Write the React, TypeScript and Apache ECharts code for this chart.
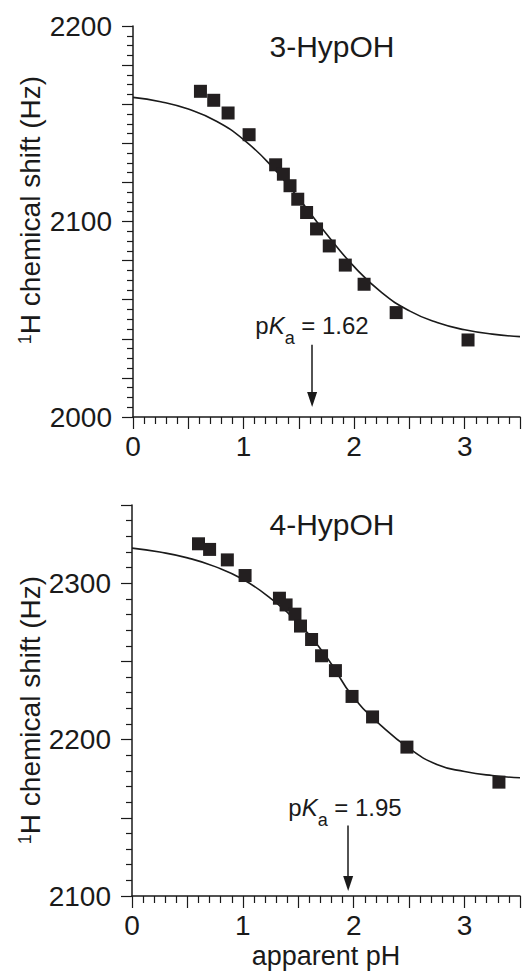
import React, { useEffect, useRef } from 'react';
import * as echarts from 'echarts';

// Panel A: 3-HypOH
const phA = [0.61, 0.73, 0.86, 1.05, 1.29, 1.36, 1.42, 1.49, 1.57, 1.66, 1.775, 1.92, 2.09, 2.38, 3.03];
const shiftA = [2166.6, 2162.0, 2155.5, 2144.4, 2129.0, 2124.2, 2118.3, 2111.4, 2104.6, 2096.2, 2087.5, 2077.7, 2067.9, 2053.4, 2039.4];
const fitPhA = [0, 0.25, 0.5, 0.75, 1, 1.25, 1.5, 1.75, 2, 2.25, 2.5, 2.75, 3, 3.25, 3.5];
const fitShiftA = [2163.5, 2161.3, 2157.5, 2151.4, 2141.9, 2128.5, 2111.7, 2093.6, 2076.9, 2063.6, 2054.3, 2048.3, 2044.6, 2042.4, 2041.1];

// Panel B: 4-HypOH
const phB = [0.6, 0.7, 0.86, 1.02, 1.33, 1.39, 1.47, 1.52, 1.62, 1.71, 1.835, 1.985, 2.17, 2.48, 3.31];
const shiftB = [2325.2, 2321.6, 2314.9, 2304.9, 2290.4, 2286.1, 2280.2, 2272.6, 2264.0, 2253.6, 2244.1, 2227.6, 2214.5, 2195.2, 2172.8];
const fitPhB = [0, 0.25, 0.5, 0.75, 1, 1.25, 1.5, 1.75, 2, 2.25, 2.5, 2.75, 3, 3.25, 3.5];
const fitShiftB = [2322.4, 2319.9, 2316.2, 2310.6, 2302.5, 2290.3, 2274.5, 2253.3, 2226.7, 2208.8, 2194.4, 2184.1, 2179.6, 2177.0, 2175.6];

const titles = ['3-HypOH', '4-HypOH'];
const pKaValues = [1.62, 1.95];
const arrowA = [2037, 2009];
const arrowB = [2145, 2108];
const yNameText = 'H chemical shift (Hz)';
const xNameText = 'apparent pH';

const FONT = '"Liberation Sans", Arial, Helvetica, sans-serif';
const INK = '#1a1a1a';
const FS = 28;

const zip = (xs: number[], ys: number[]) => xs.map((x, i) => [x, ys[i]]);

function xAxisCfg(gridIndex: number, withName: boolean) {
  return {
    type: 'value',
    gridIndex,
    min: 0,
    max: 3.5,
    interval: 0.5,
    name: withName ? xNameText : '',
    nameLocation: 'middle',
    nameGap: 46,
    nameTextStyle: { fontSize: 27, fontFamily: FONT, color: INK },
    axisLine: { show: true, onZero: false, lineStyle: { color: INK, width: 1.5 } },
    axisTick: { show: true, length: 12, lineStyle: { color: INK, width: 1.2 } },
    minorTick: { show: true, splitNumber: 5, length: 7, lineStyle: { color: INK, width: 1.2 } },
    axisLabel: {
      fontSize: FS,
      fontFamily: FONT,
      color: INK,
      margin: 15,
      formatter: (v: number) => (Math.abs(v - Math.round(v)) < 1e-6 ? String(Math.round(v)) : ''),
    },
    splitLine: { show: false },
    minorSplitLine: { show: false },
  };
}

function yAxisCfg(gridIndex: number, min: number, max: number, interval: number, minorSplit: number) {
  return {
    type: 'value',
    gridIndex,
    min,
    max,
    interval,
    axisLine: { show: true, onZero: false, lineStyle: { color: INK, width: 1.5 } },
    axisTick: { show: true, length: 11, lineStyle: { color: INK, width: 1.2 } },
    minorTick: { show: true, splitNumber: minorSplit, length: 6, lineStyle: { color: INK, width: 1.2 } },
    axisLabel: {
      fontSize: FS,
      fontFamily: FONT,
      color: INK,
      margin: 21,
      formatter: (v: number) => (Math.round(v) % 100 === 0 ? String(Math.round(v)) : ''),
    },
    splitLine: { show: false },
    minorSplitLine: { show: false },
  };
}

function fitSeries(idx: number, xs: number[], ys: number[]) {
  return {
    type: 'line',
    xAxisIndex: idx,
    yAxisIndex: idx,
    data: zip(xs, ys),
    smooth: 0.5,
    showSymbol: false,
    symbol: 'none',
    lineStyle: { color: INK, width: 1.6 },
    z: 2,
    silent: true,
  };
}

function pointSeries(idx: number, xs: number[], ys: number[], pKa: number, arrow: number[]) {
  return {
    type: 'scatter',
    xAxisIndex: idx,
    yAxisIndex: idx,
    data: zip(xs, ys),
    symbol: 'rect',
    symbolSize: 13,
    itemStyle: { color: '#231f20', opacity: 1 },
    z: 3,
    markLine: {
      silent: true,
      symbol: ['none', 'triangle'],
      symbolSize: [10, 15],
      lineStyle: { color: INK, width: 1.5, type: 'solid' },
      label: { show: false },
      data: [[{ coord: [pKa, arrow[0]] }, { coord: [pKa, arrow[1]] }]],
    },
  };
}

const pkaRich = {
  n: { fontSize: 24, fontFamily: FONT, fill: INK, lineHeight: 30, verticalAlign: 'top' },
  i: { fontSize: 24, fontFamily: FONT, fill: INK, fontStyle: 'italic', lineHeight: 30, verticalAlign: 'top' },
  s: { fontSize: 18, fontFamily: FONT, fill: INK, lineHeight: 33, verticalAlign: 'bottom' },
};

const yNameRich = {
  sup: { fontSize: 18, fontFamily: FONT, fill: INK, verticalAlign: 'top' },
  m: { fontSize: FS, fontFamily: FONT, fill: INK },
};

function textEl(x: number, y: number, text: string, extra: any = {}) {
  const { style, ...rest } = extra;
  return {
    type: 'text',
    x,
    y,
    silent: true,
    ...rest,
    style: {
      text,
      fontSize: FS,
      fontFamily: FONT,
      fill: INK,
      align: 'center',
      verticalAlign: 'middle',
      ...(style || {}),
    },
  };
}

export default function App() {
  const ref = useRef<HTMLDivElement>(null);
  useEffect(() => {
    if (!ref.current) return;
    const chart = echarts.init(ref.current, null, { renderer: 'svg' });
    const option: any = {
      animation: false,
      backgroundColor: '#ffffff',
      textStyle: { fontFamily: FONT },
      grid: [
        { left: 133, top: 26, width: 392, height: 391 },
        { left: 132, top: 505, width: 391, height: 391 },
      ],
      xAxis: [xAxisCfg(0, false), xAxisCfg(1, true)],
      yAxis: [yAxisCfg(0, 2000, 2200, 20, 4), yAxisCfg(1, 2100, 2350, 50, 5)],
      series: [
        fitSeries(0, fitPhA, fitShiftA),
        pointSeries(0, phA, shiftA, pKaValues[0], arrowA),
        fitSeries(1, fitPhB, fitShiftB),
        pointSeries(1, phB, shiftB, pKaValues[1], arrowB),
      ],
      graphic: [
        textEl(332, 46, titles[0], { style: { fontSize: 30 } }),
        textEl(332, 524, titles[1], { style: { fontSize: 30 } }),
        textEl(312, 330, '{n|p}{i|K}{s|a}{n| = ' + pKaValues[0].toFixed(2) + '}', { style: { rich: pkaRich } }),
        textEl(345, 812, '{n|p}{i|K}{s|a}{n| = ' + pKaValues[1].toFixed(2) + '}', { style: { rich: pkaRich } }),
        textEl(30, 210, '{sup|1}{m|' + yNameText + '}', { rotation: Math.PI / 2, style: { rich: yNameRich } }),
        textEl(30, 710, '{sup|1}{m|' + yNameText + '}', { rotation: Math.PI / 2, style: { rich: yNameRich } }),
      ],
    };
    chart.setOption(option);
    return () => chart.dispose();
  }, []);
  return (
    <div
      ref={ref}
      style={{ position: 'absolute', left: 0, top: 0, width: 523, height: 975, background: '#fff' }}
    />
  );
}
